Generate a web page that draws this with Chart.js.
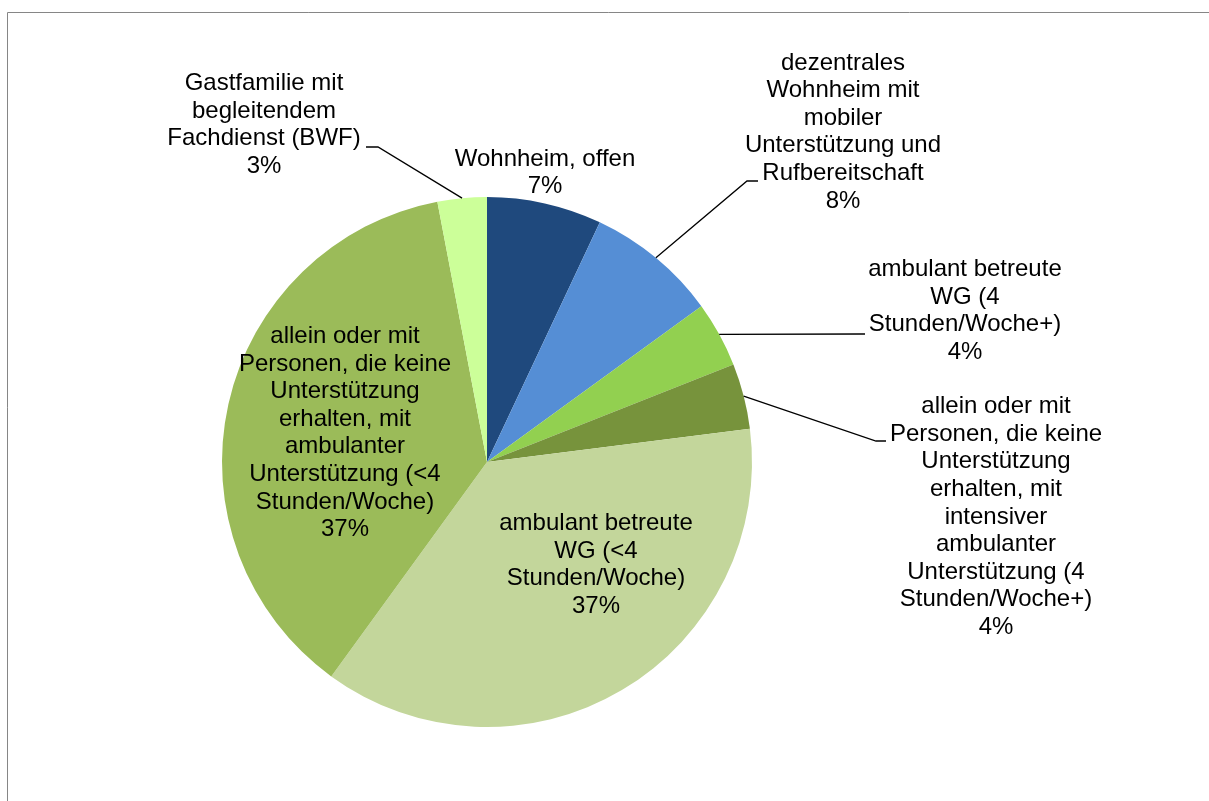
<!DOCTYPE html>
<html lang="de">
<head>
<meta charset="utf-8">
<script src="https://cdn.jsdelivr.net/npm/chart.js@4.4.1/dist/chart.umd.min.js"></script>
<style>
  html, body { margin: 0; padding: 0; background: #fff; }
  #wrap { width: 1209px; height: 801px; position: relative; }
</style>
</head>
<body>
<div id="wrap"><canvas id="wohnformChart"></canvas></div>
<script>
// Wohnformen, Anteile in Prozent (im Uhrzeigersinn ab 12 Uhr)
const categories = [
  'Wohnheim, offen',
  'dezentrales\nWohnheim mit\nmobiler\nUnterstützung und\nRufbereitschaft',
  'ambulant betreute\nWG (4\nStunden/Woche+)',
  'allein oder mit\nPersonen, die keine\nUnterstützung\nerhalten, mit\nintensiver\nambulanter\nUnterstützung (4\nStunden/Woche+)',
  'ambulant betreute\nWG (<4\nStunden/Woche)',
  'allein oder mit\nPersonen, die keine\nUnterstützung\nerhalten, mit\nambulanter\nUnterstützung (<4\nStunden/Woche)',
  'Gastfamilie mit\nbegleitendem\nFachdienst (BWF)'
];
const shares = [7, 8, 4, 4, 37, 37, 3];
const sliceColors = ['#1F497D', '#558ED5', '#92D050', '#77933C', '#C3D69B', '#9BBB59', '#CCFF99'];

// Lage der Beschriftungen relativ zur Kreismitte (Blockmitte des Textes)
const labelOffsets = [[58, -289], [356, -330], [478, -151], [509, 55], [109, 103], [-142, -29], [-223, -337]];
// Führungslinien: Knickpunkt und Ende relativ zur Kreismitte
const leaders = [
  null,
  { elbow: [260, -281], end: [271, -281] },
  { elbow: [373, -128], end: [378, -128] },
  { elbow: [389, -21], end: [399, -21] },
  null,
  null,
  { elbow: [-109, -315], end: [-121, -315] }
];

const FONT = '24px "Liberation Sans", Arial, sans-serif';
const LINE_H = 27.6;

const framePlugin = {
  id: 'frame',
  beforeDraw(chart) {
    const ctx = chart.ctx;
    ctx.save();
    ctx.strokeStyle = '#868686';
    ctx.lineWidth = 1;
    ctx.beginPath();
    ctx.moveTo(7.5, 820);
    ctx.lineTo(7.5, 12.5);
    ctx.lineTo(1220, 12.5);
    ctx.stroke();
    ctx.restore();
  }
};

const sliceLabels = {
  id: 'sliceLabels',
  afterDraw(chart) {
    const ctx = chart.ctx;
    const arcs = chart.getDatasetMeta(0).data;
    ctx.save();
    ctx.font = FONT;
    ctx.fillStyle = '#000';
    ctx.textAlign = 'center';
    ctx.textBaseline = 'middle';
    arcs.forEach((arc, i) => {
      const { x, y, startAngle, endAngle, outerRadius } = arc.getProps(['x', 'y', 'startAngle', 'endAngle', 'outerRadius'], true);
      const mid = (startAngle + endAngle) / 2;
      const ld = leaders[i];
      if (ld) {
        ctx.strokeStyle = '#000';
        ctx.lineWidth = 1.3;
        ctx.beginPath();
        ctx.moveTo(x + Math.cos(mid) * outerRadius, y + Math.sin(mid) * outerRadius);
        ctx.lineTo(x + ld.elbow[0], y + ld.elbow[1]);
        ctx.lineTo(x + ld.end[0], y + ld.end[1]);
        ctx.stroke();
      }
      const lines = categories[i].split('\n').concat([shares[i] + '%']);
      const cx = x + labelOffsets[i][0];
      const top = y + labelOffsets[i][1] - (lines.length - 1) * LINE_H / 2;
      lines.forEach((t, k) => ctx.fillText(t, cx, top + k * LINE_H));
    });
    ctx.restore();
  }
};

new Chart(document.getElementById('wohnformChart'), {
  type: 'pie',
  data: {
    labels: categories,
    datasets: [{
      data: shares,
      backgroundColor: sliceColors,
      borderWidth: 0
    }]
  },
  options: {
    responsive: true,
    maintainAspectRatio: false,
    animation: false,
    layout: { padding: { left: 222, right: 457, top: 197, bottom: 74 } },
    plugins: {
      legend: { display: false },
      tooltip: { enabled: false }
    }
  },
  plugins: [framePlugin, sliceLabels]
});
</script>
</body>
</html>
